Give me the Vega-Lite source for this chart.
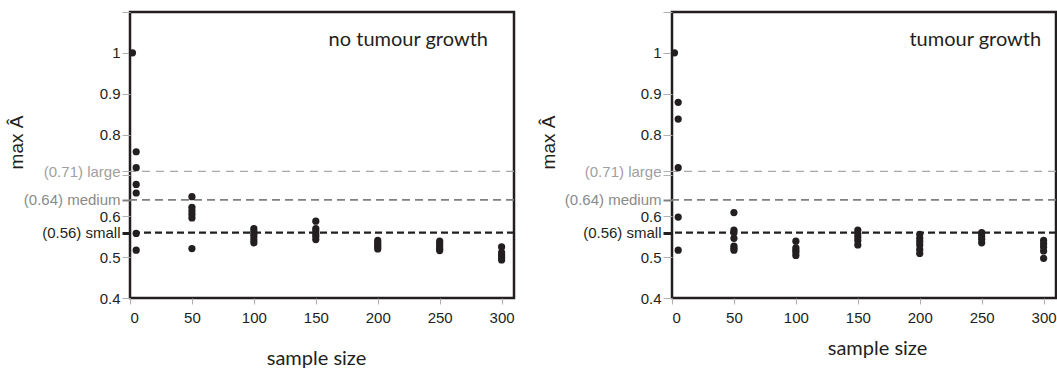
{
  "$schema": "https://vega.github.io/schema/vega-lite/v6.json",
  "padding": {"left": 5, "top": 3, "right": 0, "bottom": 0},
  "background": "white",
  "config": {
    "view": {"stroke": "#231f20", "strokeWidth": 2.5},
    "axis": {"labelFont": "Liberation Sans", "labelFontSize": 15, "labelColor": "#231f20", "titleFont": "Lato", "titleFontWeight": "normal", "titleColor": "#231f20", "grid": false, "domain": false, "tickColor": "#b0b0b0"}
  },
  "datasets": {
    "points": [
      {"panel": "no tumour growth", "n": 2, "a": 1.0},
      {"panel": "no tumour growth", "n": 5, "a": 0.758},
      {"panel": "no tumour growth", "n": 5, "a": 0.719},
      {"panel": "no tumour growth", "n": 5, "a": 0.678},
      {"panel": "no tumour growth", "n": 5, "a": 0.657},
      {"panel": "no tumour growth", "n": 5, "a": 0.558},
      {"panel": "no tumour growth", "n": 5, "a": 0.517},
      {"panel": "no tumour growth", "n": 50, "a": 0.648},
      {"panel": "no tumour growth", "n": 50, "a": 0.622},
      {"panel": "no tumour growth", "n": 50, "a": 0.613},
      {"panel": "no tumour growth", "n": 50, "a": 0.605},
      {"panel": "no tumour growth", "n": 50, "a": 0.596},
      {"panel": "no tumour growth", "n": 50, "a": 0.521},
      {"panel": "no tumour growth", "n": 100, "a": 0.57},
      {"panel": "no tumour growth", "n": 100, "a": 0.563},
      {"panel": "no tumour growth", "n": 100, "a": 0.556},
      {"panel": "no tumour growth", "n": 100, "a": 0.549},
      {"panel": "no tumour growth", "n": 100, "a": 0.542},
      {"panel": "no tumour growth", "n": 100, "a": 0.535},
      {"panel": "no tumour growth", "n": 150, "a": 0.588},
      {"panel": "no tumour growth", "n": 150, "a": 0.57},
      {"panel": "no tumour growth", "n": 150, "a": 0.564},
      {"panel": "no tumour growth", "n": 150, "a": 0.557},
      {"panel": "no tumour growth", "n": 150, "a": 0.551},
      {"panel": "no tumour growth", "n": 150, "a": 0.543},
      {"panel": "no tumour growth", "n": 200, "a": 0.541},
      {"panel": "no tumour growth", "n": 200, "a": 0.535},
      {"panel": "no tumour growth", "n": 200, "a": 0.53},
      {"panel": "no tumour growth", "n": 200, "a": 0.525},
      {"panel": "no tumour growth", "n": 200, "a": 0.52},
      {"panel": "no tumour growth", "n": 250, "a": 0.539},
      {"panel": "no tumour growth", "n": 250, "a": 0.533},
      {"panel": "no tumour growth", "n": 250, "a": 0.527},
      {"panel": "no tumour growth", "n": 250, "a": 0.521},
      {"panel": "no tumour growth", "n": 250, "a": 0.516},
      {"panel": "no tumour growth", "n": 300, "a": 0.525},
      {"panel": "no tumour growth", "n": 300, "a": 0.511},
      {"panel": "no tumour growth", "n": 300, "a": 0.505},
      {"panel": "no tumour growth", "n": 300, "a": 0.499},
      {"panel": "no tumour growth", "n": 300, "a": 0.493},
      {"panel": "tumour growth", "n": 2, "a": 1.0},
      {"panel": "tumour growth", "n": 5, "a": 0.879},
      {"panel": "tumour growth", "n": 5, "a": 0.838},
      {"panel": "tumour growth", "n": 5, "a": 0.719},
      {"panel": "tumour growth", "n": 5, "a": 0.598},
      {"panel": "tumour growth", "n": 5, "a": 0.517},
      {"panel": "tumour growth", "n": 50, "a": 0.609},
      {"panel": "tumour growth", "n": 50, "a": 0.566},
      {"panel": "tumour growth", "n": 50, "a": 0.56},
      {"panel": "tumour growth", "n": 50, "a": 0.546},
      {"panel": "tumour growth", "n": 50, "a": 0.527},
      {"panel": "tumour growth", "n": 50, "a": 0.522},
      {"panel": "tumour growth", "n": 50, "a": 0.517},
      {"panel": "tumour growth", "n": 100, "a": 0.539},
      {"panel": "tumour growth", "n": 100, "a": 0.523},
      {"panel": "tumour growth", "n": 100, "a": 0.517},
      {"panel": "tumour growth", "n": 100, "a": 0.511},
      {"panel": "tumour growth", "n": 100, "a": 0.504},
      {"panel": "tumour growth", "n": 150, "a": 0.566},
      {"panel": "tumour growth", "n": 150, "a": 0.557},
      {"panel": "tumour growth", "n": 150, "a": 0.549},
      {"panel": "tumour growth", "n": 150, "a": 0.541},
      {"panel": "tumour growth", "n": 150, "a": 0.53},
      {"panel": "tumour growth", "n": 200, "a": 0.556},
      {"panel": "tumour growth", "n": 200, "a": 0.546},
      {"panel": "tumour growth", "n": 200, "a": 0.538},
      {"panel": "tumour growth", "n": 200, "a": 0.53},
      {"panel": "tumour growth", "n": 200, "a": 0.519},
      {"panel": "tumour growth", "n": 200, "a": 0.509},
      {"panel": "tumour growth", "n": 250, "a": 0.56},
      {"panel": "tumour growth", "n": 250, "a": 0.552},
      {"panel": "tumour growth", "n": 250, "a": 0.544},
      {"panel": "tumour growth", "n": 250, "a": 0.535},
      {"panel": "tumour growth", "n": 300, "a": 0.541},
      {"panel": "tumour growth", "n": 300, "a": 0.533},
      {"panel": "tumour growth", "n": 300, "a": 0.525},
      {"panel": "tumour growth", "n": 300, "a": 0.515},
      {"panel": "tumour growth", "n": 300, "a": 0.497}
    ],
    "thresholds": [
      {"effect": "large", "v": 0.71},
      {"effect": "medium", "v": 0.64},
      {"effect": "small", "v": 0.56}
    ]
  },
  "spacing": 20,
  "hconcat": [
    {
      "width": 384,
      "height": 286,
      "layer": [
        {
          "data": {"name": "thresholds"},
          "mark": {"type": "rule"},
          "encoding": {
            "y": {"field": "v", "type": "quantitative", "scale": {"domain": [0.4, 1.1], "nice": false, "zero": false},
              "axis": {"title": "max Â", "titleFont": "Liberation Sans", "titleFontSize": 19, "titleX": -104, "titleY": 130,
                "values": [0.4, 0.5, 0.56, 0.6, 0.64, 0.7, 0.71, 0.8, 0.9, 1, 1.1], "tickCount": 30,
                "labelExpr": "datum.value == 0.71 ? '(0.71) large' : datum.value == 0.64 ? '(0.64) medium' : datum.value == 0.56 ? '(0.56) small' : (datum.value == 0.7 || datum.value == 1.1) ? '' : datum.value == 1 ? '1' : format(datum.value, '.1f')",
                "labelOverlap": false, "labelBound": false, "tickSize": 8, "labelPadding": 2,
                "labelColor": {"condition": [{"test": "datum.value == 0.71", "value": "#a0a0a0"}, {"test": "datum.value == 0.64", "value": "#8a8a8a"}], "value": "#231f20"},
                "tickColor": {"condition": [{"test": "datum.value == 0.56", "value": "#231f20"}, {"test": "datum.value == 0.64", "value": "#808080"}], "value": "#b0b0b0"},
                "tickWidth": {"condition": [{"test": "datum.value == 0.56", "value": 3}, {"test": "datum.value == 0.64", "value": 2}], "value": 1}}},
            "color": {"field": "effect", "type": "nominal", "legend": null, "scale": {"domain": ["large", "medium", "small"], "range": ["#a8a8a8", "#808080", "#231f20"]}},
            "strokeWidth": {"field": "effect", "type": "nominal", "legend": null, "scale": {"domain": ["large", "medium", "small"], "range": [1.3, 2.4, 3.4]}},
            "strokeDash": {"field": "effect", "type": "nominal", "legend": null, "scale": {"domain": ["large", "medium", "small"], "range": [[8, 6], [8, 5], [7, 4]]}}
          }
        },
        {
          "data": {"name": "points"},
          "transform": [{"filter": "datum.panel == 'no tumour growth'"}],
          "mark": {"type": "circle", "size": 52, "color": "#231f20", "opacity": 1},
          "encoding": {
            "x": {"field": "n", "type": "quantitative", "scale": {"domain": [0, 310], "nice": false},
              "axis": {"title": "sample size", "values": [0, 50, 100, 150, 200, 250, 300], "titleFontSize": 20, "tickSize": 6, "labelPadding": 6, "titleX": 186, "titleY": 60, "titleBaseline": "middle"}},
            "y": {"field": "a", "type": "quantitative"}
          }
        },
        {
          "data": {"values": [{"label": "no tumour growth"}]},
          "mark": {"type": "text", "align": "right", "baseline": "alphabetic", "font": "Lato", "fontSize": 20, "color": "#231f20"},
          "encoding": {"x": {"datum": 289}, "y": {"datum": 1.016}, "text": {"field": "label"}}
        }
      ]
    },
    {
      "width": 384,
      "height": 286,
      "layer": [
        {
          "data": {"name": "thresholds"},
          "mark": {"type": "rule"},
          "encoding": {
            "y": {"field": "v", "type": "quantitative", "scale": {"domain": [0.4, 1.1], "nice": false, "zero": false},
              "axis": {"title": "max Â", "titleFont": "Liberation Sans", "titleFontSize": 19, "titleX": -114, "titleY": 130,
                "values": [0.4, 0.5, 0.56, 0.6, 0.64, 0.7, 0.71, 0.8, 0.9, 1, 1.1], "tickCount": 30,
                "labelExpr": "datum.value == 0.71 ? '(0.71) large' : datum.value == 0.64 ? '(0.64) medium' : datum.value == 0.56 ? '(0.56) small' : (datum.value == 0.7 || datum.value == 1.1) ? '' : datum.value == 1 ? '1' : format(datum.value, '.1f')",
                "labelOverlap": false, "labelBound": false, "tickSize": 9, "labelPadding": 2,
                "labelColor": {"condition": [{"test": "datum.value == 0.71", "value": "#a0a0a0"}, {"test": "datum.value == 0.64", "value": "#8a8a8a"}], "value": "#231f20"},
                "tickColor": {"condition": [{"test": "datum.value == 0.56", "value": "#231f20"}, {"test": "datum.value == 0.64", "value": "#808080"}], "value": "#b0b0b0"},
                "tickWidth": {"condition": [{"test": "datum.value == 0.56", "value": 3}, {"test": "datum.value == 0.64", "value": 2}], "value": 1}}},
            "color": {"field": "effect", "type": "nominal", "legend": null, "scale": {"domain": ["large", "medium", "small"], "range": ["#a8a8a8", "#808080", "#231f20"]}},
            "strokeWidth": {"field": "effect", "type": "nominal", "legend": null, "scale": {"domain": ["large", "medium", "small"], "range": [1.3, 2.4, 3.4]}},
            "strokeDash": {"field": "effect", "type": "nominal", "legend": null, "scale": {"domain": ["large", "medium", "small"], "range": [[8, 6], [8, 5], [7, 4]]}}
          }
        },
        {
          "data": {"name": "points"},
          "transform": [{"filter": "datum.panel == 'tumour growth'"}],
          "mark": {"type": "circle", "size": 52, "color": "#231f20", "opacity": 1},
          "encoding": {
            "x": {"field": "n", "type": "quantitative", "scale": {"domain": [0, 310], "nice": false},
              "axis": {"title": "sample size", "values": [0, 50, 100, 150, 200, 250, 300], "titleFontSize": 20, "tickSize": 6, "labelPadding": 6, "titleX": 205, "titleY": 50, "titleBaseline": "middle"}},
            "y": {"field": "a", "type": "quantitative"}
          }
        },
        {
          "data": {"values": [{"label": "tumour growth"}]},
          "mark": {"type": "text", "align": "right", "baseline": "alphabetic", "font": "Lato", "fontSize": 20, "color": "#231f20"},
          "encoding": {"x": {"datum": 298}, "y": {"datum": 1.016}, "text": {"field": "label"}}
        }
      ]
    }
  ]
}
